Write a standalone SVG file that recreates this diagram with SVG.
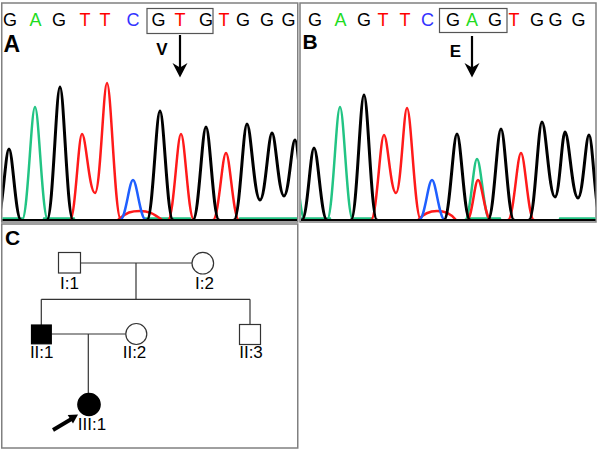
<svg xmlns="http://www.w3.org/2000/svg" width="600" height="452" viewBox="0 0 600 452">
<style>
.panel{fill:#fff;stroke:#808080;stroke-width:1.5}
.seq{font-family:"Liberation Sans",Arial,sans-serif;font-size:18px;text-anchor:middle}
.g{fill:#000}.a{fill:#1fdc1f}.t{fill:#ff0000}.c{fill:#3333ff}
.plbl{font-family:"Liberation Sans",Arial,sans-serif;font-weight:bold;fill:#000}
.box{fill:none;stroke:#555;stroke-width:1.2}
.tr{fill:none;stroke-linejoin:round;stroke-linecap:round}
.bk{stroke:#000;stroke-width:3}
.gr{stroke:#22c484;stroke-width:2.5}
.rd{stroke:#ff1a1a;stroke-width:2.5}
.bl{stroke:#1f5fff;stroke-width:2.5}
.pline{stroke:#333;stroke-width:1.2;fill:none}
.open{fill:#fff;stroke:#333;stroke-width:1.2}
.aff{fill:#000;stroke:#000;stroke-width:1.2}
.pl{font-family:"Liberation Sans",Arial,sans-serif;font-size:17px;text-anchor:middle;fill:#000}
</style>
<defs>
<clipPath id="clipA"><rect x="2.5" y="4" width="294.5" height="217"/></clipPath>
<clipPath id="clipB"><rect x="301" y="4" width="294.5" height="217"/></clipPath>
</defs>
<rect width="600" height="452" fill="#fff"/>

<g id="panelA">
<rect class="panel" x="1.75" y="3" width="296" height="219"/>
<text class="seq" y="26"><tspan class="g" x="10">G</tspan><tspan class="a" x="35.5">A</tspan><tspan class="g" x="59">G</tspan><tspan class="t" x="85">T</tspan><tspan class="t" x="105">T</tspan><tspan class="c" x="133">C</tspan><tspan class="g" x="158.5">G</tspan><tspan class="t" x="180">T</tspan><tspan class="g" x="206">G</tspan><tspan class="t" x="224">T</tspan><tspan class="g" x="243">G</tspan><tspan class="g" x="267">G</tspan><tspan class="g" x="288.5">G</tspan></text>
<rect class="box" x="147" y="8.5" width="66" height="25"/>
<text class="plbl" x="3.5" y="52" font-size="23">A</text>
<text class="plbl" x="162" y="55" font-size="17" text-anchor="middle">V</text>
<line x1="180" y1="35" x2="180" y2="70" stroke="#000" stroke-width="2.2"/>
<polygon points="180,77.5 172.5,63 180,67.5 187.5,63" fill="#000"/>
<g clip-path="url(#clipA)">
<path class="tr gr" d="M 22,220 C 27.85,220 31.1,107 35,107 C 38.9,107 42.15,220 48,220"/>
<path class="tr gr" d="M 2,218.5 H 22 M 44,218.5 H 74 M 145,218.5 H 190 M 240,218.5 H 297" stroke-width="1.5"/>
<path class="tr rd" d="M 70,220 C 75.4,220 78.4,134 82,134 C 85.9,134 89.15,193 95,193 C 100.4,193 103.4,83 107,83 C 111.2,83 114.7,220 121,220"/>
<path class="tr rd" d="M 118,220 C 126,212 132,211 140,211 C 148,211 153,213 162,220"/>
<path class="tr rd" d="M 168,220 C 173.85,220 177.1,134 181,134 C 184.9,134 188.15,220 194,220"/>
<path class="tr rd" d="M 213,220 C 218.85,220 222.1,153 226,153 C 229.9,153 233.15,220 239,220"/>
<path class="tr bl" d="M 120,220 C 125.85,220 129.1,180 133,180 C 136.9,180 140.15,220 146,220"/>
<path class="tr bk" d="M -3,220 C 2.4,220 5.4,149 9,149 C 12.6,149 15.6,220 21,220"/>
<path class="tr bk" d="M 47,220 C 52.85,220 56.1,87 60,87 C 63.9,87 67.15,220 73,220"/>
<path class="tr bk" d="M 147,220 C 152.85,220 156.1,111 160,111 C 163.9,111 167.15,220 173,220"/>
<path class="tr bk" d="M 193,220 C 198.85,220 202.1,127 206,127 C 209.9,127 213.15,220 219,220"/>
<path class="tr bk" d="M 234,220 C 239.85,220 243.1,124 247,124 C 250.9,124 254.15,200 260,200 C 265.4,200 268.4,133 272,133 C 275.6,133 278.6,196 284,196 C 288.95,196 291.7,140 295,140 C 298.6,140 301.6,220 307,220"/>
<path class="tr bk" d="M 2,220.5 H 297" stroke-width="2"/>
</g>
</g>

<g id="panelB">
<rect class="panel" x="300" y="3" width="296" height="219"/>
<text class="seq" y="26"><tspan class="g" x="315">G</tspan><tspan class="a" x="340.5">A</tspan><tspan class="g" x="364">G</tspan><tspan class="t" x="383">T</tspan><tspan class="t" x="405">T</tspan><tspan class="c" x="427.5">C</tspan><tspan class="g" x="453">G</tspan><tspan class="a" x="472">A</tspan><tspan class="g" x="495">G</tspan><tspan class="t" x="514">T</tspan><tspan class="g" x="537">G</tspan><tspan class="g" x="555.5">G</tspan><tspan class="g" x="578.5">G</tspan></text>
<rect class="box" x="439.5" y="8.5" width="67.5" height="24"/>
<text class="plbl" x="302.5" y="48.5" font-size="21">B</text>
<text class="plbl" x="455.5" y="57" font-size="17" text-anchor="middle">E</text>
<line x1="472" y1="36" x2="472" y2="70" stroke="#000" stroke-width="2.2"/>
<polygon points="472,77.5 464.5,63 472,67.5 479.5,63" fill="#000"/>
<g clip-path="url(#clipB)">
<path class="tr gr" d="M 292,140 C 296,140 299,220 305,220"/>
<path class="tr gr" d="M 327,220 C 332.85,220 336.1,107 340,107 C 343.9,107 347.15,220 353,220"/>
<path class="tr gr" d="M 465,220 C 470.4,220 473.4,159 477,159 C 480.9,159 484.15,220 490,220"/>
<path class="tr gr" d="M 301,218.5 H 330 M 352,218.5 H 372 M 470,218.5 H 500 M 560,218.5 H 595" stroke-width="1.5"/>
<path class="tr rd" d="M 371,220 C 376.85,220 380.1,135 384,135 C 387.6,135 390.6,193 396,193 C 400.95,193 403.7,108 407,108 C 411.2,108 414.7,220 421,220"/>
<path class="tr rd" d="M 418,220 C 425,212 431,211 437,211 C 445,211 450,213 456,220"/>
<path class="tr rd" d="M 467,220 C 471.95,220 474.7,180 478,180 C 481.9,180 485.15,220 491,220"/>
<path class="tr rd" d="M 508,220 C 513.85,220 517.1,153 521,153 C 524.9,153 528.15,220 534,220"/>
<path class="tr bl" d="M 419,220 C 424.85,220 428.1,180 432,180 C 435.9,180 439.15,220 445,220"/>
<path class="tr bk" d="M 302,220 C 307.4,220 310.4,148 314,148 C 317.9,148 321.15,220 327,220"/>
<path class="tr bk" d="M 351,220 C 356.85,220 360.1,95 364,95 C 367.9,95 371.15,220 377,220"/>
<path class="tr bk" d="M 444,220 C 449.85,220 453.1,134 457,134 C 460.9,134 464.15,220 470,220"/>
<path class="tr bk" d="M 488,220 C 493.85,220 497.1,129 501,129 C 504.9,129 508.15,220 514,220"/>
<path class="tr bk" d="M 529,220 C 534.85,220 538.1,122 542,122 C 545.9,122 549.15,197 555,197 C 559.5,197 562,132 565,132 C 568.9,132 572.15,198 578,198 C 582.95,198 585.7,135 589,135 C 592.6,135 595.6,220 601,220"/>
<path class="tr bk" d="M 301,220.5 H 596" stroke-width="2"/>
</g>
</g>

<g id="panelC">
<rect class="panel" x="1.75" y="224" width="296" height="224"/>
<text class="plbl" x="5" y="245" font-size="21">C</text>

<g id="connectors">
<line class="pline" x1="80.5" y1="263" x2="192.2" y2="263"/>
<line class="pline" x1="136" y1="263" x2="136" y2="299.3"/>
<line class="pline" x1="41.3" y1="299.3" x2="250" y2="299.3"/>
<line class="pline" x1="41.3" y1="299.3" x2="41.3" y2="325"/>
<line class="pline" x1="250" y1="299.3" x2="250" y2="324.5"/>
<line class="pline" x1="51.5" y1="334" x2="125.8" y2="334"/>
<line class="pline" x1="88.3" y1="334" x2="88.3" y2="393.2"/>
</g>

<g id="I1">
<rect class="open" x="58.5" y="252.5" width="22" height="20.5"/>
<text class="pl" x="69.5" y="288.5">I:1</text>
</g>
<g id="I2">
<circle class="open" cx="202.8" cy="263.2" r="10.8"/>
<text class="pl" x="204.5" y="288.5">I:2</text>
</g>
<g id="II1">
<rect class="aff" x="31.5" y="325" width="19.8" height="18.8"/>
<text class="pl" x="41.7" y="357.5">II:1</text>
</g>
<g id="II2">
<circle class="open" cx="136.3" cy="334" r="10.5"/>
<text class="pl" x="134.5" y="357.5">II:2</text>
</g>
<g id="II3">
<rect class="open" x="239.5" y="324.5" width="21" height="20"/>
<text class="pl" x="251" y="357.5">II:3</text>
</g>
<g id="III1">
<circle class="aff" cx="89" cy="404.5" r="11.2"/>
<text class="pl" x="92" y="430">III:1</text>
<line x1="53" y1="430" x2="71.5" y2="419" stroke="#000" stroke-width="3.8"/>
<polygon points="78,414.5 73,423.5 67.7,415" fill="#000"/>
</g>
</g>
</svg>
